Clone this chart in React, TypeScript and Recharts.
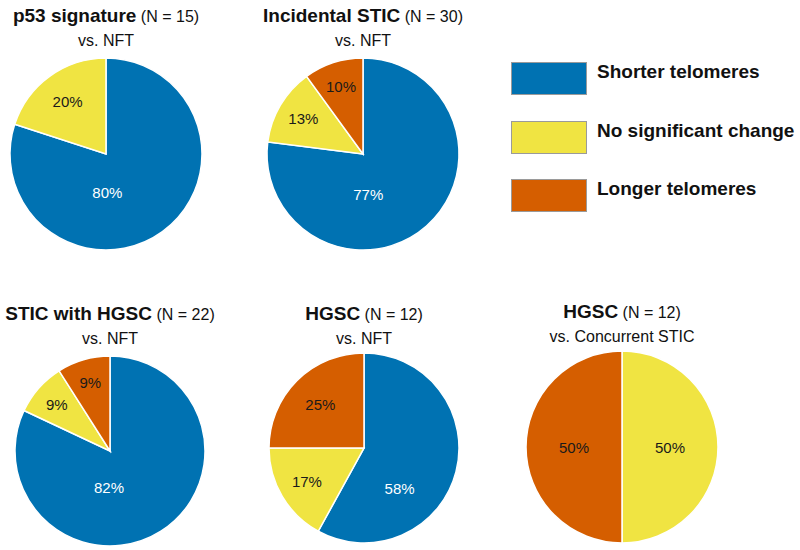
import React from "react";
import { PieChart, Pie, Cell } from "recharts";

const CATEGORIES = ["Shorter telomeres", "No significant change", "Longer telomeres"];
const COLORS = ["#0072B2", "#F0E442", "#D55E00"];

// percentages per group: [shorter, no change, longer]
const P53_SIGNATURE = [80, 20, 0];
const INCIDENTAL_STIC = [77, 13, 10];
const STIC_WITH_HGSC = [82, 9, 9];
const HGSC_VS_NFT = [58, 17, 25];
const HGSC_VS_STIC = [0, 50, 50];

const GROUP_NAMES = ["p53 signature", "Incidental STIC", "STIC with HGSC", "HGSC", "HGSC"];
const GROUP_N = [15, 30, 22, 12, 12];
const COMPARISONS = ["vs. NFT", "vs. NFT", "vs. NFT", "vs. NFT", "vs. Concurrent STIC"];

const FONT = '"Liberation Sans", Arial, Helvetica, sans-serif';
const RAD = Math.PI / 180;

const panels = [
  { values: P53_SIGNATURE, cx: 106, cy: 154, r: 96, titleTop: 5 },
  { values: INCIDENTAL_STIC, cx: 363, cy: 154, r: 96, titleTop: 5 },
  { values: STIC_WITH_HGSC, cx: 110, cy: 451, r: 95, titleTop: 303 },
  { values: HGSC_VS_NFT, cx: 364, cy: 448, r: 95, titleTop: 303 },
  { values: HGSC_VS_STIC, cx: 622, cy: 447, r: 96, titleTop: 301 },
];

const renderLabel = (props: any) => {
  const { cx, cy, midAngle, outerRadius, percent, value, payload } = props;
  const isBlue = payload.cat === 0;
  // blue labels sit a bit further round, closer to the centre
  const angle = isBlue ? midAngle - 34 : midAngle;
  const r = isBlue ? outerRadius * (1.0 - 0.75 * percent) : outerRadius * (0.8 - 0.6 * percent);
  const x = cx + r * Math.cos(-angle * RAD);
  const y = cy + r * Math.sin(-angle * RAD);
  return (
    <text
      x={x}
      y={y}
      textAnchor="middle"
      dominantBaseline="central"
      fill={isBlue ? "#ffffff" : "#1a1a1a"}
      fontSize={15}
      fontFamily={FONT}
    >
      {`${value}%`}
    </text>
  );
};

const PiePanel = ({ idx }: { idx: number }) => {
  const p = panels[idx];
  const data = p.values
    .map((v, i) => ({ name: CATEGORIES[i], value: v, cat: i }))
    .filter((d) => d.value > 0);
  return (
    <>
      <div
        style={{
          position: "absolute",
          left: p.cx - 150,
          top: p.titleTop,
          width: 300,
          textAlign: "center",
          color: "#111",
        }}
      >
        <div style={{ lineHeight: "22px", whiteSpace: "nowrap" }}>
          <span style={{ fontWeight: "bold", fontSize: 19 }}>{GROUP_NAMES[idx]}</span>
          <span style={{ fontSize: 16 }}>{` (N = ${GROUP_N[idx]})`}</span>
        </div>
        <div style={{ lineHeight: "26px", fontSize: 16 }}>{COMPARISONS[idx]}</div>
      </div>
      <div style={{ position: "absolute", left: p.cx - 120, top: p.cy - 120 }}>
        <PieChart width={240} height={240} margin={{ top: 0, right: 0, bottom: 0, left: 0 }}>
          <Pie
            data={data}
            dataKey="value"
            nameKey="name"
            cx="50%"
            cy="50%"
            outerRadius={p.r}
            startAngle={90}
            endAngle={-270}
            stroke="#ffffff"
            strokeWidth={1.5}
            label={renderLabel}
            labelLine={false}
            isAnimationActive={false}
          >
            {data.map((d, i) => (
              <Cell key={`cell-${i}`} fill={COLORS[d.cat]} />
            ))}
          </Pie>
        </PieChart>
      </div>
    </>
  );
};

const legendTops = [62, 121, 179];

const App = () => {
  return (
    <div
      style={{
        position: "absolute",
        left: 0,
        top: 0,
        width: 800,
        height: 550,
        background: "#fff",
        fontFamily: FONT,
      }}
    >
      {panels.map((_, i) => (
        <PiePanel key={i} idx={i} />
      ))}
      {CATEGORIES.map((c, i) => (
        <React.Fragment key={c}>
          <div
            style={{
              position: "absolute",
              left: 511,
              top: legendTops[i],
              width: 74,
              height: 31,
              background: COLORS[i],
              border: "1px solid #9a9a9a",
            }}
          />
          <div
            style={{
              position: "absolute",
              left: 597,
              top: legendTops[i] - 1,
              lineHeight: "22px",
              fontSize: 19,
              fontWeight: "bold",
              color: "#111",
              whiteSpace: "nowrap",
            }}
          >
            {c}
          </div>
        </React.Fragment>
      ))}
    </div>
  );
};

export default App;
